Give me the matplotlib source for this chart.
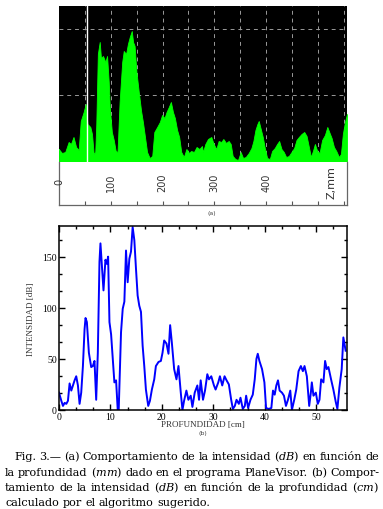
import numpy as np
import matplotlib
matplotlib.use("Agg")
import matplotlib.pyplot as plt
from matplotlib.ticker import MultipleLocator, AutoMinorLocator

# (a) PlaneVisor profile: depth in mm, height in screen units
mm_a = [0, 1, 5.7, 12, 18.6, 23, 28, 33, 38, 42, 47.6, 51.5, 55, 60.5, 63.7, 67, 70, 72,
        75, 78.6, 81, 85, 89.5, 92.8, 96, 98, 102, 105.7, 109.5, 113, 117, 122, 125,
        129.5, 133, 136.6, 140.5, 143, 146, 149.5, 154, 158.5, 162, 166, 170, 175, 180,
        184, 189.5, 194.7, 199, 203.7, 207.6, 212, 216, 220, 223.7, 228, 232, 236, 241,
        246, 251, 255, 260.5, 265.6, 271, 276, 278, 282.5, 287.6, 294, 298.6, 303.7,
        308.2, 313.4, 317.3, 322.4, 327.6, 331.5, 335.3, 340.5, 345.6, 350.8, 355.3,
        360.5, 366.3, 371.5, 375.3, 379.2, 383, 385.6, 389.5, 393.4, 397.3, 401.8, 407,
        411.4, 416.6, 421, 425, 429.5, 434, 438.5, 443.7, 448.9, 454, 458.5, 463, 468.2,
        473.4, 478, 482.4, 486.3, 490.8, 494, 498.5, 503, 508, 513.4, 518, 521.7, 526.3,
        530.8, 535.3, 540.4, 544.3, 548, 552, 556]
h_a = [13, 12, 9, 10, 20, 18, 25, 15, 12, 41, 50, 58, 38, 35, 28, 8, 10, 38,
       108, 120, 104, 106, 100, 106, 80, 55, 30, 22, 11, 10, 60, 100, 111,
       108, 118, 125, 131, 120, 116, 90, 70, 51, 40, 25, 10, 4, 6,
       30, 35, 40, 47, 44, 50, 55, 60, 50, 44, 32, 25, 10, 5,
       13, 9, 11, 10, 15, 13, 16, 10, 18, 23, 25, 18, 13,
       21, 20, 23, 19, 21, 18, 6, 3, 2, 10, 4,
       5, 9, 14, 21, 32, 38, 41, 33, 25, 14, 4, 3,
       11, 14, 18, 21, 13, 10, 5, 6, 10, 14, 22, 25, 28,
       30, 26, 15, 5, 12, 18, 11, 9, 22, 27, 35, 30, 24,
       15, 11, 5, 8, 28, 40, 48]
ticks_a = [0, 100, 200, 300, 400]

# (b) algorithm profile
cm_b = [0, 0.45, 0.77, 1.1, 1.42, 1.74, 2.06, 2.39, 2.71, 3.03, 3.35, 3.68, 4.0, 4.32,
        4.65, 4.97, 5.16, 5.42, 5.81, 6.26, 6.58, 6.9, 7.23, 7.55, 7.87, 8.06, 8.32,
        8.65, 9.03, 9.29, 9.55, 9.81, 10.13, 10.45, 10.77, 11.1, 11.42, 11.61, 12.06,
        12.39, 12.71, 13.03, 13.35, 13.68, 14.0, 14.32, 14.65, 14.97, 15.29, 15.61,
        15.94, 16.26, 16.58, 16.9, 17.35, 17.68, 18.06, 18.52, 18.84, 19.35, 19.81,
        20.13, 20.45, 20.9, 21.29, 21.61, 21.94, 22.39, 22.84, 23.23, 23.68, 24.0,
        24.32, 24.77, 25.16, 25.61, 25.94, 26.39, 26.9, 27.23, 27.55, 28.0, 28.39,
        28.84, 29.16, 29.61, 30.13, 30.45, 30.97, 31.29, 31.74, 32.19, 32.58, 33.03,
        33.48, 33.81, 34.19, 34.52, 34.97, 35.29, 35.74, 36.13, 36.39, 36.77, 37.23,
        37.68, 38.06, 38.39, 38.65, 38.97, 39.48, 39.94, 40.26, 40.77, 41.29, 41.61,
        41.94, 42.26, 42.58, 42.9, 43.35, 43.74, 44.13, 44.52, 44.97, 45.29, 45.74,
        46.13, 46.58, 47.03, 47.42, 47.74, 48.19, 48.65, 48.97, 49.16, 49.48, 49.94,
        50.32, 50.65, 50.97, 51.42, 51.74, 52.06, 52.39, 52.9, 53.35, 53.81, 54.13,
        54.52, 54.97, 55.29, 55.74]
db_b = [17, 9, 4, 7, 6, 9, 26, 19, 24, 29, 33, 24, 6, 17,
        43, 79, 90, 86, 56, 42, 43, 48, 10, 56, 145, 163, 142,
        117, 147, 143, 150, 86, 74, 50, 27, 29, 0, 0, 76,
        99, 106, 156, 125, 148, 155, 179, 166, 138, 112, 102,
        96, 63, 43, 20, 4, 9, 20, 30, 43, 47, 48,
        56, 68, 65, 55, 83, 66, 40, 30, 43, 17, 0,
        9, 19, 10, 14, 3, 17, 24, 10, 29, 10, 19,
        35, 30, 33, 24, 20, 27, 33, 24, 33, 29, 25,
        10, 1, 4, 10, 6, 12, 1, 4, 14, 2, 10,
        15, 30, 50, 55, 48, 40, 27, 2, 1, 2, 19,
        15, 24, 29, 19, 17, 14, 4, 10, 19, 0, 10,
        20, 38, 43, 38, 43, 33, 4, 17, 27, 14, 17,
        6, 10, 30, 27, 48, 40, 42, 30, 20, 8, 1,
        22, 40, 71, 58]

caption = ["Fig. 3.\u2014 (a) Comportamiento de la intensidad ($dB$) en función de",
           "la profundidad ($mm$) dado en el programa PlaneVisor. (b) Compor-",
           "tamiento de la intensidad ($dB$) en función de la profundidad ($cm$)",
           "calculado por el algoritmo sugerido."]

plt.rcParams["mathtext.fontset"] = "dejavuserif"
W, H = 383, 510
fig = plt.figure(figsize=(W / 100, H / 100), dpi=100)


def frac(x0, y0, x1, y1):
    return [x0 / W, 1 - y1 / H, (x1 - x0) / W, (y1 - y0) / H]


# ---- panel (a): screenshot-like plot
axa = fig.add_axes(frac(59, 7, 347, 163))
axa.set_facecolor("black")
axa.set_xlim(0, 556)
axa.set_ylim(0, 156)
for x in np.arange(50, 556, 50):
    axa.axvline(x, color="#9a9a9a", lw=0.7, ls=(0, (4, 4)), zorder=1)
for y in (67, 133):
    axa.axhline(y, color="#9a9a9a", lw=0.7, ls=(0, (4, 4)), zorder=1)
axa.fill_between(mm_a, h_a, color="#00ff00", lw=0.6, edgecolor="#00ff00", zorder=2)
axa.axvline(54, color="white", lw=1.0, zorder=3)
axa.set_xticks([]); axa.set_yticks([])
for s in axa.spines.values():
    s.set_visible(False)

axt = fig.add_axes(frac(59, 163, 347, 206))
axt.set_xlim(0, 556)
axt.set_ylim(0, 1)
axt.set_yticks([])
axt.set_xticks(np.arange(50, 556, 50))
axt.tick_params(axis="x", direction="in", length=3, width=0.8, color="#555",
                labelbottom=False)
for s in axt.spines.values():
    s.set_color("#666"); s.set_linewidth(0.9)
axt.spines["top"].set_visible(False)
for t in ticks_a:
    axt.text(t, 0.55, str(t), rotation=90, ha="center", va="center",
             fontsize=7, color="#333", family="DejaVu Sans")
axt.text(526, 0.55, "Z,mm", rotation=90, ha="center", va="center",
         fontsize=8, color="#333", family="DejaVu Sans")
fig.text(212 / W, 1 - 214 / H, "(a)", ha="center", va="center", fontsize=4.5,
         color="#444")

# ---- panel (b): line plot
axb = fig.add_axes(frac(59, 227, 347, 411))
axb.plot(cm_b, db_b, color="#0000ff", lw=1.4)
axb.set_xlim(0, 56)
axb.set_ylim(0, 180)
axb.xaxis.set_major_locator(MultipleLocator(10))
axb.yaxis.set_major_locator(MultipleLocator(50))
axb.xaxis.set_minor_locator(AutoMinorLocator(3))
axb.yaxis.set_minor_locator(AutoMinorLocator(3))
axb.tick_params(which="both", direction="in", top=True, right=True, width=1.0,
                labelsize=7, pad=1.5)
axb.tick_params(which="major", length=4)
axb.tick_params(which="minor", length=2)
for lab in axb.get_xticklabels() + axb.get_yticklabels():
    lab.set_family("Liberation Serif")
for s in axb.spines.values():
    s.set_linewidth(1.1)
axb.set_ylabel("INTENSIDAD [dB]", family="Liberation Serif", fontsize=6.5,
               labelpad=5, color="#333")
fig.text(203 / W, 1 - 425 / H, "PROFUNDIDAD [cm]", ha="center", va="center",
         family="Liberation Serif", fontsize=6.5, color="#333")
fig.text(203 / W, 1 - 434 / H, "(b)", ha="center", va="center", fontsize=4.5,
         color="#444")

# ---- caption, justified word by word
fig.canvas.draw()
rend = fig.canvas.get_renderer()
starts = [14, 5, 5, 5]
ycent = [457, 473, 488, 503]
for i, line in enumerate(caption):
    words = line.split(" ")
    arts = [fig.text(0, 0, w, fontsize=8.1, family="DejaVu Serif", va="center")
            for w in words]
    widths = [a.get_window_extent(rend).width for a in arts]
    x0, x1 = starts[i], 379
    if i < len(caption) - 1:
        gap = (x1 - x0 - sum(widths)) / (len(words) - 1)
    else:
        gap = 3.5
    x = x0
    for a, w in zip(arts, widths):
        a.set_position((x / W, 1 - ycent[i] / H))
        x += w + gap

fig.savefig("out.png", dpi=100)
